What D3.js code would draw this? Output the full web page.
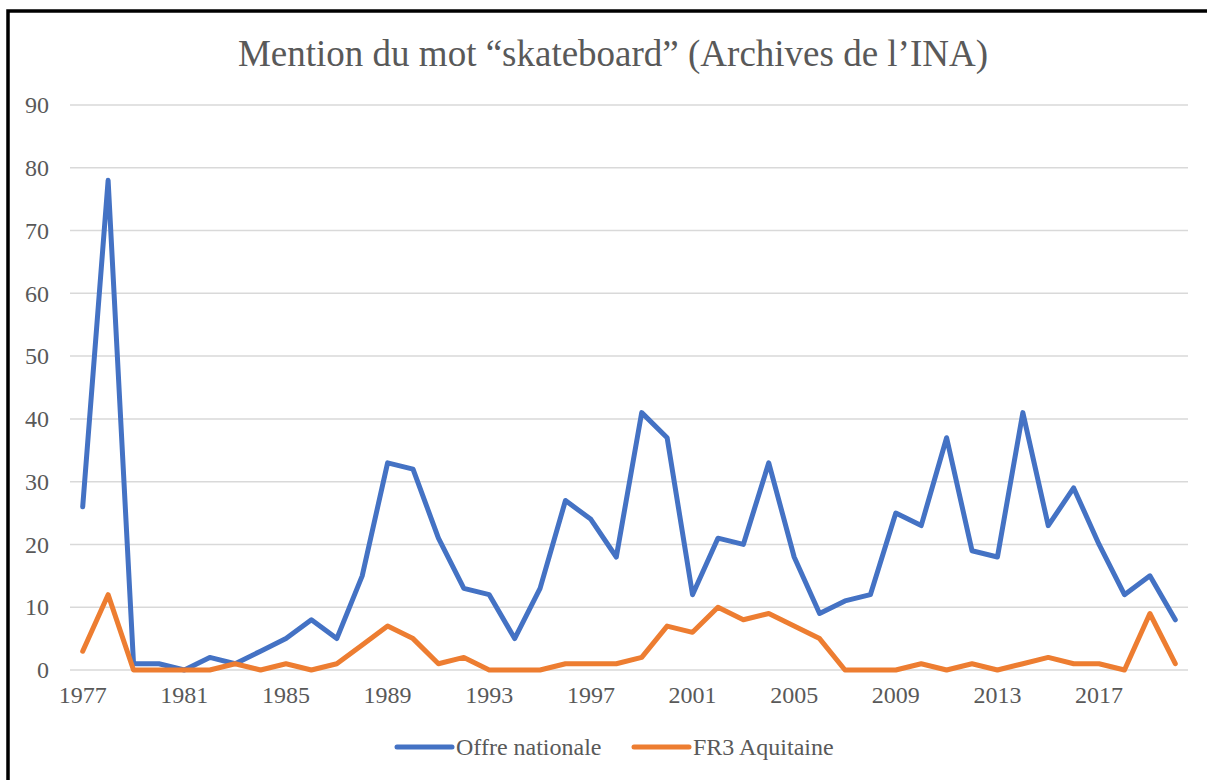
<!DOCTYPE html>
<html><head><meta charset="utf-8">
<script src="https://cdn.jsdelivr.net/npm/d3@7"></script>
<style>body{margin:0;background:#fff;}svg{display:block;}</style>
</head><body>
<script>
const years = d3.range(1977, 2021).map(String);
const offreNationale = [26,78,1,1,0,2,1,3,5,8,5,15,33,32,21,13,12,5,13,27,24,18,41,37,12,21,20,33,18,9,11,12,25,23,37,19,18,41,23,29,20,12,15,8];
const fr3Aquitaine = [3,12,0,0,0,0,1,0,1,0,1,4,7,5,1,2,0,0,0,1,1,1,2,7,6,10,8,9,7,5,0,0,0,1,0,1,0,1,2,1,1,0,9,1];
const yTicks = [0,10,20,30,40,50,60,70,80,90];
const xTickLabels = years.filter((y,i)=>i%4===0);
const seriesNames = ["Offre nationale","FR3 Aquitaine"];
const colors = ["#4472C4","#ED7D31"];

const W=1207,H=780;
const svg=d3.select("body").append("svg").attr("width",W).attr("height",H);
svg.append("rect").attr("width",W).attr("height",H).attr("fill","#fff");
// frame
svg.append("rect").attr("x",8).attr("y",11).attr("width",1210).attr("height",790)
  .attr("fill","none").attr("stroke","#000").attr("stroke-width",3.5);

const x=d3.scaleBand().domain(years).range([70,1188]);
const y=d3.scaleLinear().domain([0,90]).range([670,105]);
const font="'Liberation Serif','Times New Roman',serif";

svg.append("text").attr("x",613).attr("y",66).attr("text-anchor","middle")
  .attr("font-family",font).attr("font-size",37).attr("fill","#595959")
  .text("Mention du mot “skateboard” (Archives de l’INA)");

// grid
svg.append("g").selectAll("line").data(yTicks).join("line")
  .attr("x1",70).attr("x2",1188).attr("y1",d=>y(d)).attr("y2",d=>y(d))
  .attr("stroke","#d9d9d9").attr("stroke-width",1.5);

const yAxis=svg.append("g").attr("transform","translate(70,0)")
  .call(d3.axisLeft(y).tickValues(yTicks).tickSize(0).tickPadding(21));
yAxis.select(".domain").remove();
yAxis.selectAll("text").attr("font-family",font).attr("font-size",24).attr("fill","#595959");

const xAxis=svg.append("g").attr("transform","translate(0,670)")
  .call(d3.axisBottom(x).tickValues(xTickLabels).tickSize(0).tickPadding(16));
xAxis.select(".domain").remove();
xAxis.selectAll("text").attr("font-family",font).attr("font-size",24).attr("fill","#595959");

const line=d3.line().x((d,i)=>x(years[i])+x.bandwidth()/2).y(d=>y(d));
[offreNationale,fr3Aquitaine].forEach((s,k)=>{
  svg.append("path").datum(s).attr("d",line).attr("fill","none")
    .attr("stroke",colors[k]).attr("stroke-width",5)
    .attr("stroke-linejoin","round").attr("stroke-linecap","round");
});

// legend
const legX=[397,634];
seriesNames.forEach((n,k)=>{
  svg.append("line").attr("x1",legX[k]).attr("x2",legX[k]+55).attr("y1",747).attr("y2",747)
    .attr("stroke",colors[k]).attr("stroke-width",5).attr("stroke-linecap","round");
  svg.append("text").attr("x",legX[k]+59).attr("y",755).attr("font-family",font)
    .attr("font-size",24).attr("fill","#595959").text(n);
});
</script>
</body></html>
